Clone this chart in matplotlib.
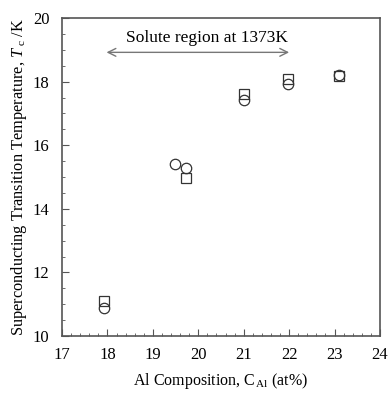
import matplotlib
matplotlib.use("Agg")
import matplotlib.pyplot as plt
from matplotlib.ticker import MultipleLocator

plt.rcParams['font.family'] = ['Liberation Serif', 'DejaVu Serif']
plt.rcParams['mathtext.fontset'] = 'custom'
plt.rcParams['mathtext.rm'] = 'Liberation Serif'
plt.rcParams['mathtext.it'] = 'Liberation Serif:italic'

# data
sq_x = [17.93, 19.72, 21.01, 21.98, 23.10]
sq_y = [11.11, 14.96, 17.61, 18.07, 18.18]
ci_x = [17.93, 19.49, 19.72, 21.01, 21.98, 23.10]
ci_y = [10.88, 15.40, 15.29, 17.42, 17.92, 18.20]
arrow_x = [17.98, 22.0]
arrow_y = 18.92
annot_text = "Solute region at 1373K"

fig = plt.figure(figsize=(3.89, 3.94), dpi=100)
ax = fig.add_axes([62/389, 1-336/394, 318/389, 318/394])

edge = '#333333'
ax.plot(sq_x, sq_y, linestyle='none', marker='s', markersize=7.5,
        markerfacecolor='none', markeredgecolor=edge, markeredgewidth=0.9)
ax.plot(ci_x, ci_y, linestyle='none', marker='o', markersize=7.5,
        markerfacecolor='none', markeredgecolor=edge, markeredgewidth=0.9)

ax.annotate('', xy=(arrow_x[0], arrow_y), xytext=(arrow_x[1], arrow_y),
            arrowprops=dict(arrowstyle='<->', color='#777777', lw=1.0,
                            shrinkA=0, shrinkB=0, mutation_scale=14))
ax.text(20.2, 19.36, annot_text, ha='center', va='center', fontsize=12.5)

ax.set_xlim(17, 24)
ax.set_ylim(10, 20)
ax.xaxis.set_major_locator(MultipleLocator(1))
ax.xaxis.set_minor_locator(MultipleLocator(0.2))
ax.yaxis.set_major_locator(MultipleLocator(2))
ax.yaxis.set_minor_locator(MultipleLocator(0.5))
ax.tick_params(which='both', direction='in', top=False, right=False,
               colors='#555555', labelcolor='black', labelsize=12)
ax.tick_params(axis='x', which='major', length=5, width=0.8, pad=8)
ax.tick_params(axis='y', which='major', length=5, width=0.8, pad=9)
ax.tick_params(which='minor', length=2.5, width=0.6)
for s in ax.spines.values():
    s.set_color('#555555')
    s.set_linewidth(1.2)

ax.set_xlabel(r'Al Composition, C$_{\,\mathrm{Al}}$ (at%)', fontsize=11.5, labelpad=6)
ax.set_ylabel(r'Superconducting Transition Temperature, $T_{\ \mathrm{c}}$ /K', fontsize=11.8, labelpad=3)

fig.savefig('out.png', dpi=100)
